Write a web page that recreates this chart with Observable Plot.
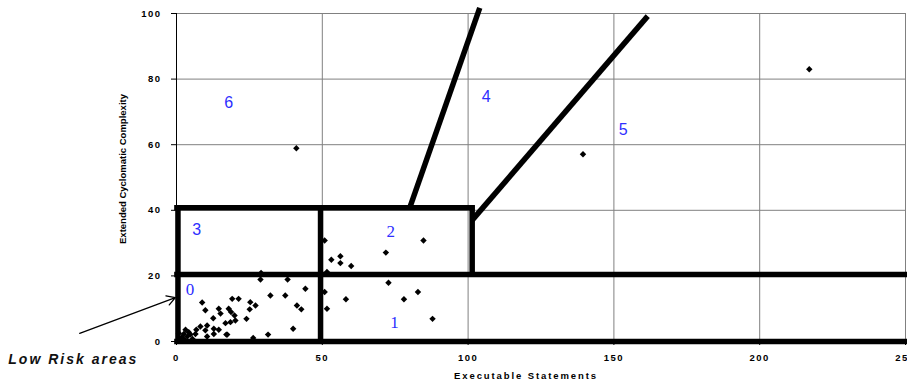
<!DOCTYPE html>
<html><head><meta charset="utf-8">
<script src="https://cdn.jsdelivr.net/npm/d3@7"></script>
<script src="https://cdn.jsdelivr.net/npm/@observablehq/plot@0.6"></script>
<style>
body{margin:0;background:#fff;}
#chart svg{font-family:"Liberation Sans",Arial,sans-serif;background:#fff;}
g[aria-label="x-axis tick label"] text, g[aria-label="y-axis tick label"] text{letter-spacing:1.5px;}
.xtitle text{letter-spacing:1.9px;}
.note text{letter-spacing:2px;}
</style></head><body><div id="chart"></div>
<script>
// Module data: executable statements (x) vs extended cyclomatic complexity (y)
const execStatements = [
  8.8, 9.9, 14.5, 15.1, 12.6, 19.1, 21.3, 17.9, 18.7, 19.9, 20.2, 18.5, 16.8, 10.5, 8.2, 6.8, 9.9, 12.8, 14.5,
  3.1, 4.2, 2.5, 4.8, 6.5, 12.8, 17.1, 10.5, 3.7, 1.9, 1.0, 2.0, 0.8, 5.5, 3.0,
  29.0, 38.1, 28.8, 44.2, 32.2, 37.3, 25.3, 27.1, 25.1, 41.3, 42.8, 24.0, 40.0, 31.4, 26.3, 17.4,
  84.7, 71.8, 56.2, 53.1, 56.2, 59.9, 50.8, 51.6, 72.7, 82.8, 58.1, 78.0, 87.8, 50.8, 51.6,
  41.1, 139.4, 217.0
];
const complexity = [
  11.9, 9.5, 10.0, 8.5, 7.1, 13.0, 13.0, 10.0, 9.0, 7.9, 6.4, 5.9, 5.6, 4.9, 4.6, 3.6, 3.4, 3.9, 3.6,
  3.6, 2.8, 2.3, 2.1, 2.3, 2.3, 2.1, 1.5, 1.5, 1.3, 0.5, 1.0, 2.5, 0.8, 0.3,
  20.9, 18.9, 18.9, 16.1, 14.0, 14.0, 12.0, 11.0, 9.8, 11.0, 9.8, 6.9, 3.9, 2.1, 1.1, 2.1,
  30.8, 27.1, 26.0, 24.9, 23.9, 23.0, 30.8, 21.2, 17.9, 15.1, 12.9, 12.9, 6.9, 15.1, 10.0,
  58.9, 57.1, 83.0
];

// Risk-region boundaries (thick lines)
const boundX1 = [-0.8, -0.8, -0.8, 0.5, 49.4, 101.4, 80.0, 101.4];
const boundY1 = [0, 20.4, 40.8, 0, 0, 20.0, 40.8, 37.0];
const boundX2 = [252, 252, 102.2, 0.5, 49.4, 101.4, 104.0, 161.6];
const boundY2 = [0, 20.4, 40.8, 41.6, 41.6, 41.6, 101.7, 99.2];

// Region numbers
const regionLabels = ["0", "1", "2", "3", "4", "5", "6"];
const regionX = [4.6, 74.8, 73.5, 6.9, 106.2, 153.2, 17.9];
const regionY = [15.8, 5.9, 33.4, 34.1, 74.6, 64.6, 72.6];
const regionSerif = [true, true, true, false, false, false, false];

// Annotation
const noteText = ["Low Risk areas"];
const noteX = [-35.4];
const noteY = [-5.6];
const arrowX1 = [-33.2], arrowY1 = [2.5], arrowX2 = [-0.4], arrowY2 = [13.4];

// Ticks
const xTicks = [0, 50, 100, 150, 200, 250];
const yTicks = [0, 20, 40, 60, 80, 100];
const xTitle = "Executable Statements";
const yTitle = "Extended Cyclomatic Complexity";

const points = execStatements.map((x, i) => ({x, y: complexity[i]}));
const bounds = boundX1.map((x1, i) => ({x1, y1: boundY1[i], x2: boundX2[i], y2: boundY2[i]}));
const regions = regionLabels.map((t, i) => ({t, x: regionX[i], y: regionY[i], serif: regionSerif[i]}));
const notes = noteText.map((t, i) => ({t, x: noteX[i], y: noteY[i]}));
const arrows = arrowX1.map((x1, i) => ({x1, y1: arrowY1[i], x2: arrowX2[i], y2: arrowY2[i]}));

const blue = "#2e2eff";

const chart = Plot.plot({
  width: 907,
  height: 386,
  marginLeft: 176,
  marginRight: 2,
  marginTop: 13,
  marginBottom: 45,
  x: {domain: [0, 250]},
  y: {domain: [0, 100]},
  marks: [
    Plot.gridX(xTicks, {stroke: "#808080", strokeOpacity: 1}),
    Plot.gridY(yTicks, {stroke: "#808080", strokeOpacity: 1}),
    Plot.ruleX([0], {y1: 0, y2: 100, stroke: "black", strokeWidth: 1}),
    Plot.axisX({ticks: xTicks, tickSize: 4, tickPadding: 9, fontWeight: "bold", fontSize: 9.5, label: null}),
    Plot.axisY({ticks: yTicks, tickSize: 5, tickPadding: 10, fontWeight: "bold", fontSize: 9.5, label: null}),
    Plot.text([xTitle], {frameAnchor: "bottom", dy: 37, dx: -15, fontWeight: "bold", fontSize: 9.5, textAnchor: "middle", className: "xtitle"}),
    Plot.text([yTitle], {frameAnchor: "left", dx: -54, dy: -8.5, rotate: -90, textAnchor: "middle", fontWeight: "bold", fontSize: 9.5}),
    Plot.dot(points, {x: "x", y: "y", symbol: "diamond2", r: 2.9, fill: "black", stroke: "none"}),
    Plot.link(bounds, {x1: "x1", y1: "y1", x2: "x2", y2: "y2", stroke: "black", strokeWidth: 5.5, strokeLinecap: "butt"}),
    Plot.text(regions.filter(d => d.serif), {x: "x", y: "y", text: "t", fill: blue, fontSize: 17, fontFamily: "Liberation Serif, Times New Roman, serif"}),
    Plot.text(regions.filter(d => !d.serif), {x: "x", y: "y", text: "t", fill: blue, fontSize: 16, fontFamily: "Liberation Sans, Arial, sans-serif"}),
    Plot.arrow(arrows, {x1: "x1", y1: "y1", x2: "x2", y2: "y2", stroke: "black", strokeWidth: 1.3, headLength: 11, bend: 0}),
    Plot.text(notes, {x: "x", y: "y", text: "t", fontSize: 14, fontWeight: "bold", fontStyle: "italic", fill: "#111", className: "note"})
  ]
});
document.getElementById("chart").appendChild(chart);
</script>
</body></html>
